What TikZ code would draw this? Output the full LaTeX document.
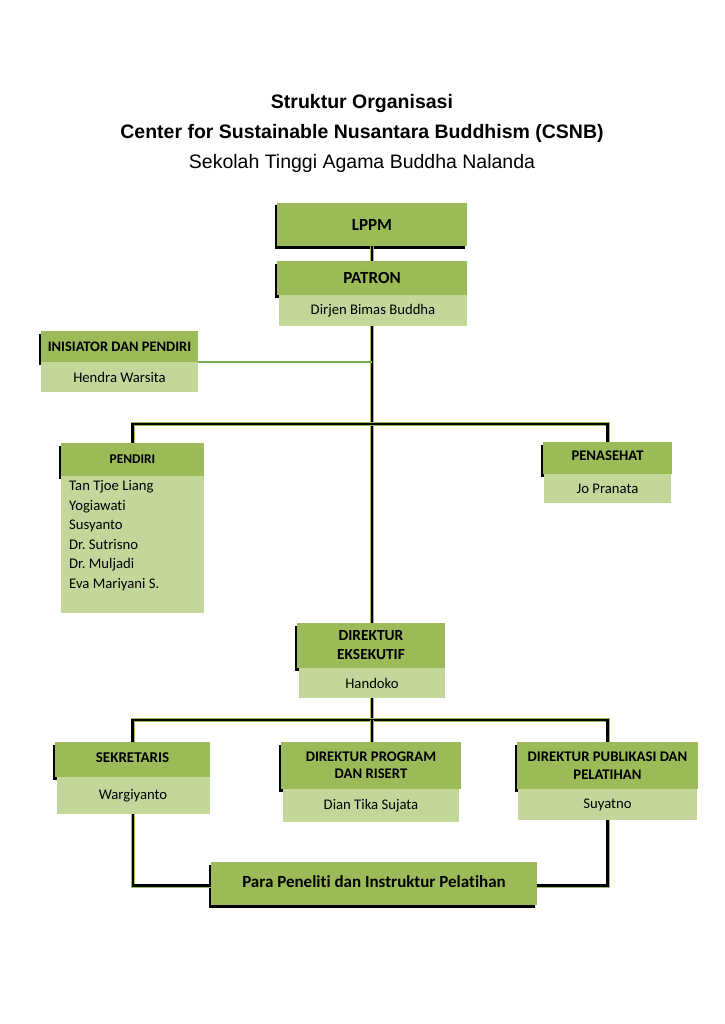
\documentclass[tikz,border=0pt]{standalone}
\usepackage{fontspec}
\setmainfont{Carlito}[Ligatures=NoCommon]
\newfontfamily\arialf{Liberation Sans}
\usetikzlibrary{shadows}
\definecolor{hdrgreen}{RGB}{155,187,89}
\definecolor{subgreen}{RGB}{196,215,155}
\definecolor{linegreen}{RGB}{112,173,71}
\frenchspacing
\begin{document}
\begin{tikzpicture}[x=1pt,y=-1pt,
  hdr/.style={fill=hdrgreen, draw=none, inner sep=0pt, align=center, font=\fontsize{14.7}{17}\selectfont\bfseries,
    drop shadow={shadow xshift=-2.5pt, shadow yshift=-2.5pt, fill=black, opacity=1}},
  sub/.style={fill=subgreen, draw=none, inner sep=0pt, align=center, font=\fontsize{14.7}{17}\selectfont},
  conn/.style={line width=2.4pt, black, preaction={draw=hdrgreen, line width=4pt}},
  gline/.style={line width=2pt, draw=linegreen},
  ttl/.style={font=\arialf\fontsize{19.5}{22}\selectfont}]
\useasboundingbox[fill=white] (0,0) rectangle (724,1024);
% titles
\node[ttl, font=\arialf\bfseries\fontsize{19.5}{22}\selectfont] (t1) at (362,104) {Struktur Organisasi};
\node[ttl, font=\arialf\bfseries\fontsize{19.5}{22}\selectfont] (t2) at (362,133) {Center for Sustainable Nusantara Buddhism (CSNB)};
\node[ttl] (t3) at (362,163) {Sekolah Tinggi Agama Buddha Nalanda};

\coordinate (b1) at (372,424);
\coordinate (b2) at (372,720);

% LPPM and patron
\node[hdr, minimum width=190pt, minimum height=43pt, font=\fontsize{17}{19}\selectfont\bfseries] (lppm) at (372,224.5) {LPPM};
\node[hdr, minimum width=190pt, minimum height=34pt, font=\fontsize{17}{19}\selectfont\bfseries] (patronH) at (372,278) {PATRON};
\node[sub, minimum width=188pt, minimum height=31pt] (patronS) at (373,310.5) {Dirjen Bimas Buddha};

% inisiator
\node[hdr, minimum width=157pt, minimum height=31pt, font=\fontsize{14.5}{16}\selectfont\bfseries] (inisH) at (119.5,346.5) {INISIATOR DAN PENDIRI};
\node[sub, minimum width=157pt, minimum height=30pt] (inisS) at (119.5,377) {Hendra Warsita};

% pendiri
\node[hdr, minimum width=143pt, minimum height=33pt, font=\fontsize{13.4}{15}\selectfont\bfseries] (pendH) at (132.5,459.5) {\raisebox{1.5pt}{PENDIRI}};
\node[sub, minimum width=143pt, minimum height=137pt] (pendS) at (132.5,544.5) {};
\node[anchor=north west, align=left, inner sep=0pt, font=\fontsize{14.7}{19.5}\selectfont] (pendT) at (69,480.5) {Tan Tjoe Liang\\Yogiawati\\Susyanto\\Dr. Sutrisno\\Dr. Muljadi\\Eva Mariyani S.};

% penasehat
\node[hdr, minimum width=129pt, minimum height=32pt] (penH) at (607.5,458) {\raisebox{5pt}{PENASEHAT}};
\node[sub, minimum width=127pt, minimum height=29pt] (penS) at (607.5,488.5) {Jo Pranata};

% direktur eksekutif
\node[hdr, minimum width=148pt, minimum height=45pt, font=\fontsize{15.4}{19}\selectfont\bfseries] (dirH) at (371,645.5) {DIREKTUR\\EKSEKUTIF};
\node[sub, minimum width=146pt, minimum height=30pt] (dirS) at (372,683) {Handoko};

% bottom row
\node[hdr, minimum width=155pt, minimum height=35pt, font=\fontsize{15}{17}\selectfont\bfseries] (sekH) at (132.5,759.5) {\raisebox{4pt}{SEKRETARIS}};
\node[sub, minimum width=153pt, minimum height=37pt] (sekS) at (133,795.5) {Wargiyanto};
\node[hdr, minimum width=180pt, minimum height=47pt, font=\fontsize{14.7}{17}\selectfont\bfseries] (progH) at (371,765.5) {DIREKTUR PROGRAM\\DAN RISERT};
\node[sub, minimum width=176pt, minimum height=33pt] (progS) at (371,805.5) {Dian Tika Sujata};
\node[hdr, minimum width=181pt, minimum height=47pt, font=\fontsize{14.7}{18}\selectfont\bfseries] (pubH) at (607.5,765.5) {DIREKTUR PUBLIKASI DAN\\PELATIHAN};
\node[sub, minimum width=179pt, minimum height=31pt] (pubS) at (607.5,804.5) {Suyatno};

% para peneliti
\node[hdr, minimum width=326pt, minimum height=43pt, font=\fontsize{17}{19}\selectfont\bfseries] (para) at (374,883.5) {\raisebox{3pt}{Para Peneliti dan Instruktur Pelatihan}};

% connectors
\draw[conn] (lppm.south) -- (patronH.north);
\draw[conn] (patronS.south -| lppm.south) -- (dirH.north -| lppm.south);
\draw[conn] (dirS.south -| lppm.south) -- (b2);
\draw[gline] (inisH.south east) -- (inisH.south east -| lppm.south);
\draw[conn] (pendH.north) |- (b1) -| (penH.north);
\draw[conn] (sekH.north) |- (b2) -| (pubH.north);
\draw[conn] (b2) -- (b2 |- progH.north);
\draw[conn] (sekS.south) |- ([yshift=-2pt]para.west);
\draw[conn] (pubS.south) |- ([yshift=-2pt]para.east);
\end{tikzpicture}
\end{document}
